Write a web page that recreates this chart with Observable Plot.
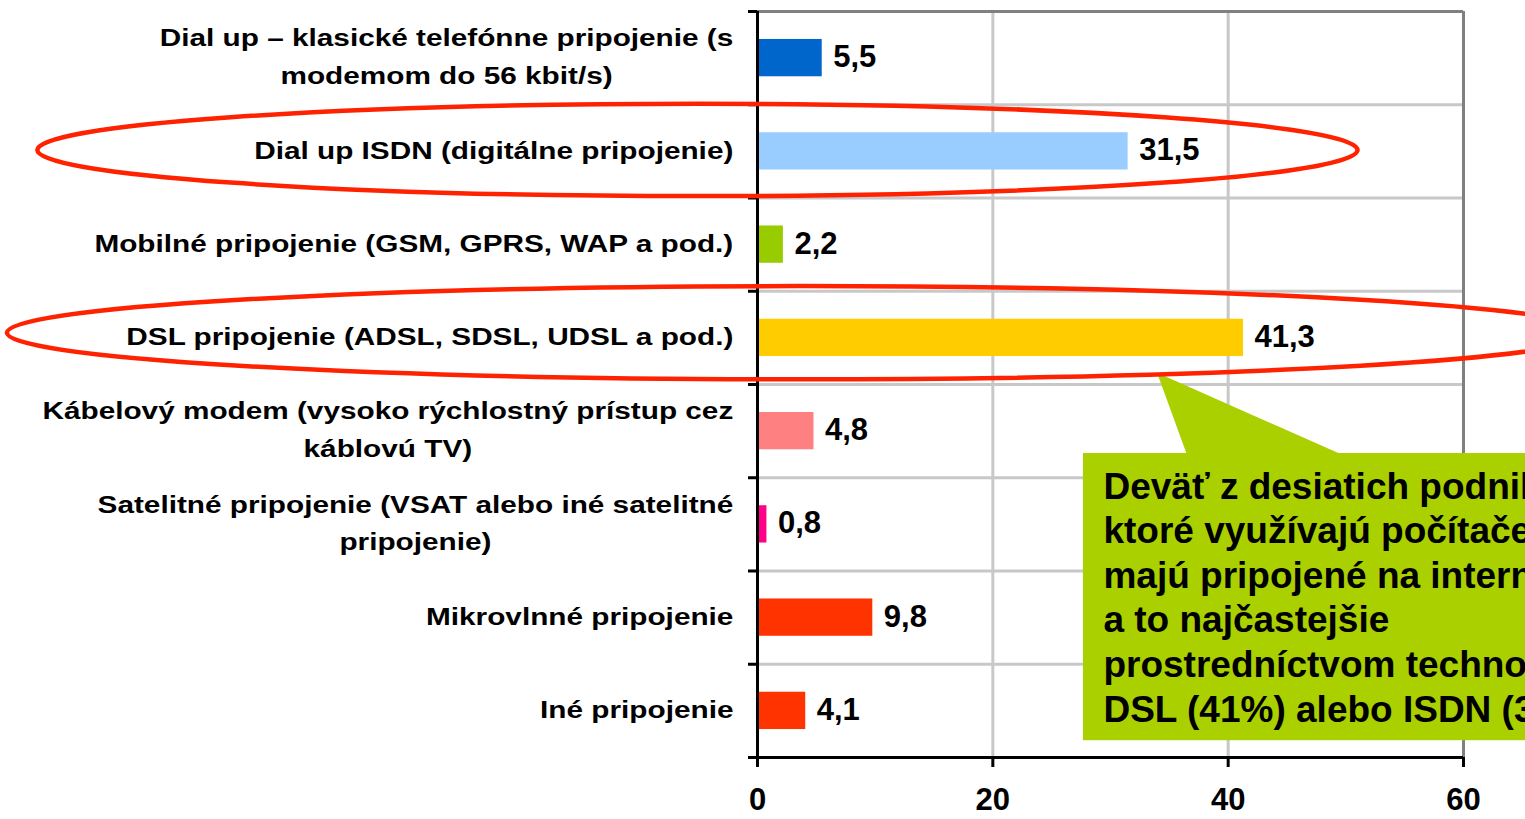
<!DOCTYPE html>
<html><head><meta charset="utf-8">
<script src="https://cdn.jsdelivr.net/npm/d3@7"></script>
<script src="https://cdn.jsdelivr.net/npm/@observablehq/plot@0.6"></script>
<style>html,body{margin:0;padding:0;background:#fff;overflow:hidden} svg{overflow:hidden}</style>
</head><body><div id="chart"></div>
<script>
// ---- data ----
const categories = [
  "Dial up – klasické telefónne pripojenie (s\nmodemom do 56 kbit/s)",
  "Dial up ISDN (digitálne pripojenie)",
  "Mobilné pripojenie (GSM, GPRS, WAP a pod.)",
  "DSL pripojenie (ADSL, SDSL, UDSL a pod.)",
  "Kábelový modem (vysoko rýchlostný prístup cez\nkáblovú TV)",
  "Satelitné pripojenie (VSAT alebo iné satelitné\npripojenie)",
  "Mikrovlnné pripojenie",
  "Iné pripojenie"
];
const values = [5.5, 31.5, 2.2, 41.3, 4.8, 0.8, 9.8, 4.1];
const colors = ["#0066CC", "#99CCFF", "#99CC00", "#FFCC00", "#FF8080", "#FF0088", "#FF3300", "#FF3300"];
const xTicks = [0, 20, 40, 60];
const calloutLines = [
  "Deväť z desiatich podnikov,",
  "ktoré využívajú počítače,",
  "majú pripojené na internet,",
  "a to najčastejšie",
  "prostredníctvom technológie",
  "DSL (41%) alebo ISDN (32%)."
];
// annotations in data units (x = %, y = row index)
const ellipses = [
  {cx: -5.06, cy: 1.49, rx: 56.1, ry: 0.495},
  {cx: 3.65, cy: 3.45, rx: 67.4, ry: 0.5}
];
const calloutBox = [{x1: 27.7, x2: 75, y1: 4.74, y2: 7.82}];
const calloutPointer = [[34.0, 3.88], [36.5, 4.745], [49.5, 4.745]];
const calloutTextPos = [{x: 29.4, y: 4.885}];

// ---- build ----
const data = categories.map((c, i) => ({i, category: c, value: values[i], color: colors[i]}));
const boundaries = d3.range(0, categories.length + 1);
const fmt = v => v.toFixed(1).replace(".", ",");
const green = "#AAD000";
const font = "'Liberation Sans', Arial, sans-serif";

const plot = Plot.plot({
  width: 1525, height: 819,
  marginLeft: 757, marginRight: 62, marginTop: 11, marginBottom: 62,
  style: {background: "white", fontFamily: font, color: "black"},
  x: {domain: [0, 60]},
  y: {domain: [categories.length, 0]},
  marks: [
    Plot.ruleX(xTicks.filter(t => t > 0 && t < 60), {stroke: "#c8c8c8", strokeWidth: 3}),
    Plot.ruleY(boundaries.slice(1, -1), {stroke: "#c8c8c8", strokeWidth: 3}),
    Plot.ruleY([0], {stroke: "#808080", strokeWidth: 3}),
    Plot.ruleX([60], {stroke: "#808080", strokeWidth: 3}),
    Plot.rect(data, {x1: 0, x2: "value", y1: d => d.i + 0.3, y2: d => d.i + 0.7, fill: d => d.color}),
    Plot.text(data, {x: "value", y: d => d.i + 0.5, text: d => fmt(d.value), dx: 11, dy: -1, textAnchor: "start",
      fontSize: 31, fontWeight: "bold"}),
    Plot.axisX({ticks: xTicks, tickSize: 10, tickPadding: 20, strokeWidth: 3, fontSize: 31, fontWeight: "bold",
      tickFormat: d => String(d), label: null}),
    Plot.axisY({ticks: boundaries, tickSize: 9, strokeWidth: 3, tickFormat: () => "", label: null}),
    Plot.axisY({ticks: data.map(d => d.i + 0.5), tickSize: 0, tickPadding: 24, dy: -5,
      tickFormat: t => categories[Math.floor(t)], fontSize: 24, fontWeight: "bold", lineHeight: 1.58, label: null}),
    Plot.ruleX([0], {stroke: "black", strokeWidth: 3}),
    Plot.ruleY([categories.length], {stroke: "black", strokeWidth: 3}),
    Plot.rect(calloutBox, {x1: "x1", x2: "x2", y1: "y1", y2: "y2", fill: green}),
    (index, {x, y}) => {
      const g = d3.create("svg:g");
      g.append("polygon")
        .attr("points", calloutPointer.map(([a, b]) => `${x(a)},${y(b)}`).join(" "))
        .attr("fill", green);
      return g.node();
    },
    Plot.text(calloutTextPos, {x: "x", y: "y", text: () => calloutLines.join("\n"), textAnchor: "start",
      lineAnchor: "top", fontSize: 37, fontWeight: "bold", lineHeight: 1.205}),
    (index, {x, y}) => {
      const g = d3.create("svg:g");
      for (const e of ellipses) {
        g.append("ellipse")
          .attr("cx", x(e.cx)).attr("cy", y(e.cy))
          .attr("rx", Math.abs(x(e.cx + e.rx) - x(e.cx)))
          .attr("ry", Math.abs(y(e.cy + e.ry) - y(e.cy)))
          .attr("fill", "none").attr("stroke", "#FF2200").attr("stroke-width", 4.5);
      }
      return g.node();
    }
  ]
});
document.getElementById("chart").append(plot);

// center multi-line category labels as a block and widen them like the original
const s = 1.24;
plot.querySelectorAll('g[aria-label="y-axis tick label"] text').forEach(t => {
  if (!t.textContent.trim()) return;
  const w = t.getBBox().width;
  t.setAttribute("text-anchor", "middle");
  t.setAttribute("transform", (t.getAttribute("transform") || "") + ` translate(${-w * s / 2},0) scale(${s},1)`);
});
</script>
</body></html>
